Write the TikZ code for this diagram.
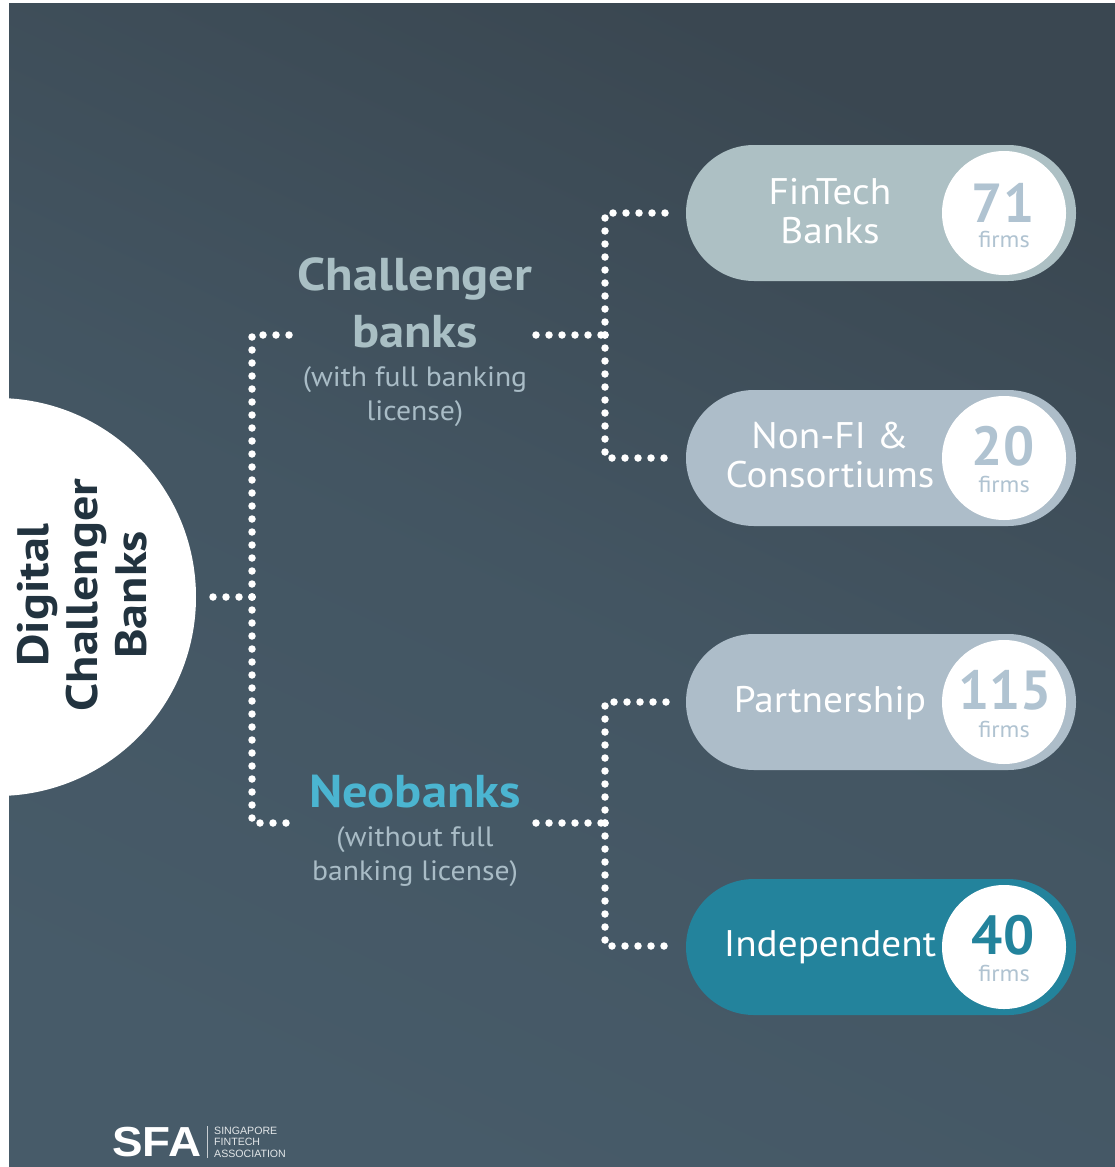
\documentclass[tikz,border=0pt]{standalone}
\usepackage{fontspec}
\setmainfont{PT Sans}
\newfontfamily\widereg[FakeStretch=1.06]{PT Sans}
\newfontfamily\widebold[FakeStretch=1.1]{PT Sans Bold}
\newfontfamily\rootbold[FakeStretch=1.14]{PT Sans Bold}
\newfontfamily\logobold[FakeStretch=1.09]{Liberation Sans Bold}
\usetikzlibrary{shapes.misc}
\definecolor{bgdark}{HTML}{3A4751}
\definecolor{bglight}{HTML}{475B69}
\definecolor{pillA}{HTML}{ADC0C4}
\definecolor{pillB}{HTML}{ADBDC9}
\definecolor{pillC}{HTML}{23839C}
\definecolor{numgrey}{HTML}{B0C3D1}
\definecolor{headgrey}{HTML}{A9BFC4}
\definecolor{subgrey}{HTML}{A9BCC6}
\definecolor{neoblue}{HTML}{4BB5D1}
\definecolor{rootink}{HTML}{22333F}
\tikzset{
  pill/.style={rounded rectangle,minimum width=390pt,minimum height=136pt,inner sep=0pt,fill=#1},
  badge/.style={circle,fill=white,minimum size=124pt,inner sep=0pt},
  pilltext/.style={text=white,font=\widereg\fontsize{37}{39}\selectfont,align=center,inner sep=0pt},
  num/.style={font=\bfseries\fontsize{55}{55}\selectfont,inner sep=0pt,text=#1},
  firms/.style={font=\widereg\fontsize{23}{23}\selectfont,inner sep=0pt,text=numgrey},
  head/.style={font=\widebold\fontsize{46}{57}\selectfont,align=center,inner sep=0pt,text=#1},
  subhead/.style={font=\widereg\fontsize{28}{34}\selectfont,align=center,inner sep=0pt,text=subgrey},
  dotted link/.style={draw=white,line width=7.5pt,line cap=round,dash pattern=on 0pt off 13pt},
}
\begin{document}
\begin{tikzpicture}[x=1pt,y=-1pt]
\useasboundingbox (0,0) rectangle (1115,1167);
\fill[white] (0,0) rectangle (1115,1167);
\shade[shading=axis,bottom color=bglight,top color=bgdark,middle color=bglight!72!bgdark,shading angle=-25] (9,3) rectangle (1115,1167);
% root
\node[circle,fill=white,minimum size=398pt,inner sep=0pt] (root) at (-3,597) {};
\node[rotate=90,font=\rootbold\fontsize{44}{49}\selectfont,text=rootink,align=center,inner sep=0pt] (roottext) at (82,595) {Digital\\Challenger\\Banks};
% headings
\node[head=headgrey] (chal) at (415,303) {Challenger\\banks};
\node[subhead] (chalsub) at (415,397) {(with full banking\\license)};
\node[head=neoblue] (neo) at (415,792) {Neobanks};
\node[subhead] (neosub) at (415,857) {(without full\\banking license)};
% pills
\node[pill=pillA] (p1) at (881,213) {};
\node[pill=pillB] (p2) at (881,458) {};
\node[pill=pillB] (p3) at (881,702) {};
\node[pill=pillC] (p4) at (881,947) {};
\node[badge] (b1) at (1004,213) {};
\node[badge] (b2) at (1004,458) {};
\node[badge] (b3) at (1004,702) {};
\node[badge] (b4) at (1004,947) {};
\node[pilltext] (t1) at (830,211) {FinTech\\Banks};
\node[pilltext] (t2) at (830,455) {Non-FI \&\\Consortiums};
\node[pilltext] (t3) at (830,703) {Partnership};
\node[pilltext] (t4) at (830,947) {Independent};
\node[num=numgrey] (n1) at (1003,203) {71};
\node[num=numgrey] (n2) at (1003,446) {20};
\node[num=numgrey] (n3) at (1005,690) {115};
\node[num=pillC] (n4) at (1003,935) {40};
\node[firms] (f1) at (1004,240) {firms};
\node[firms] (f2) at (1004,485) {firms};
\node[firms] (f3) at (1004,729) {firms};
\node[firms] (f4) at (1004,973) {firms};
% junctions and connector ends
\coordinate (jl) at (252,597);
\coordinate (jla) at (252,335);
\coordinate (jlb) at (252,823);
\coordinate (ra) at (605,335);
\coordinate (rb) at (605,823);
\coordinate (ra1) at (605,213);
\coordinate (ra2) at (605,458);
\coordinate (rb1) at (605,702);
\coordinate (rb2) at (605,946);
\coordinate (chalL) at (293,335);
\coordinate (neoL) at (287,823);
\coordinate (chalR) at (536,335);
\coordinate (neoR) at (536,823);
\coordinate (e1) at (668,213);
\coordinate (e2) at (668,458);
\coordinate (e3) at (668,702);
\coordinate (e4) at (668,946);
% connectors
\draw[dotted link] (jl) -- ([xshift=12pt]root.east |- jl);
\draw[dotted link] (jl) -- (jla) -- (chalL);
\draw[dotted link] (jl) -- (jlb) -- (neoL);
\draw[dotted link] (chalR) -- (ra);
\draw[dotted link] (ra) -- (ra1) -- (e1);
\draw[dotted link] (ra) -- (ra2) -- (e2);
\draw[dotted link] (neoR) -- (rb);
\draw[dotted link] (rb) -- (rb1) -- (e3);
\draw[dotted link] (rb) -- (rb2) -- (e4);
% logo
\node[font=\logobold\fontsize{42}{42}\selectfont,text=white,inner sep=0pt,anchor=west] (sfa) at (112,1142) {SFA};
\draw[white!70!bglight,line width=0.6pt] (207,1126) -- (207,1158);
\node[font=\fontspec{Liberation Sans}\fontsize{10.6}{11.5}\selectfont,text=white!85!bglight,inner sep=0pt,anchor=west,align=left] (sfatext) at (214,1142) {SINGAPORE\\FINTECH\\ASSOCIATION};
\end{tikzpicture}
\end{document}
